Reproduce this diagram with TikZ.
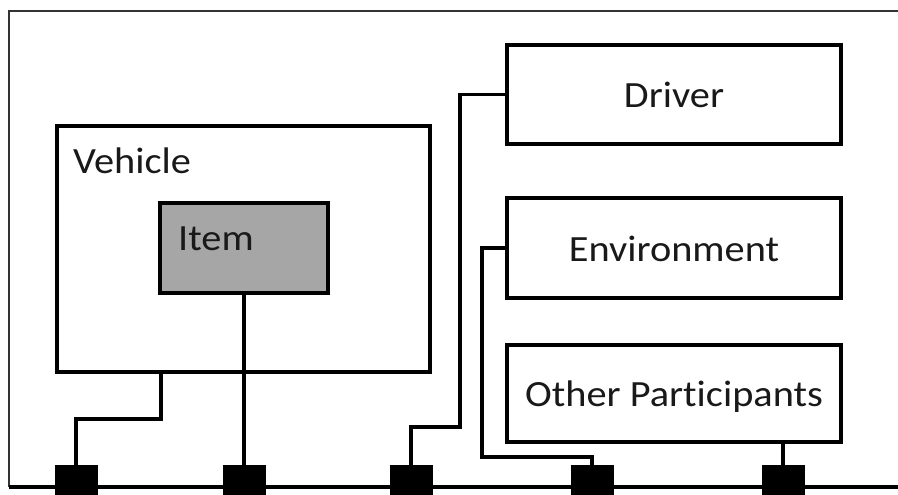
\documentclass[tikz,border=0pt]{standalone}
\usepackage{fontspec}
\setmainfont{Carlito}[Ligatures=NoCommon]
\usepackage{graphicx}
\begin{document}
\begin{tikzpicture}[x=1pt,y=-1pt,
  box/.style={draw=black,line width=3.2pt,rectangle,inner sep=0pt,fill=white},
  port/.style={fill=black,rectangle,inner sep=0pt,minimum width=43pt,minimum height=43pt},
  wire/.style={draw=black,line width=3.2pt,line join=miter},
  lbl/.style={inner sep=0pt,text=black!90,font=\fontsize{37}{40}\selectfont}]
\useasboundingbox (0,0) rectangle (898,495);
\fill[white] (0,0) rectangle (898,495);

% outer frame and bus
\draw[line width=2.2pt,draw=black!80] (9,487) -- (9,11) -- (900,11);
\draw[line width=3.2pt] (9,487) -- (900,487);

% boxes
\node[box,minimum width=373pt,minimum height=246pt] (veh) at (243.5,249) {};
\node[box,fill=black!35,minimum width=168pt,minimum height=90pt] (item) at (244,248) {};
\node[box,minimum width=334pt,minimum height=99pt] (drv) at (674,94.5) {};
\node[box,minimum width=334pt,minimum height=100pt] (env) at (674,248) {};
\node[box,minimum width=334pt,minimum height=97pt] (oth) at (674,393.5) {};

% labels
\node[lbl,anchor=base west] (vehl) at (73,173) {\scalebox{1.09}[1]{Vehicle}};
\node[lbl,anchor=base west] (iteml) at (178,250) {\scalebox{1.09}[1]{Item}};
\node[lbl,anchor=base] (drvl) at (674,108) {\scalebox{1.09}[1]{Driver}};
\node[lbl,anchor=base] (envl) at (674,261) {\scalebox{1.09}[1]{Environment}};
\node[lbl,anchor=base] (othl) at (674,406) {\scalebox{1.09}[1]{Other Participants}};

% bus ports
\node[port] (s1) at (76,486.5) {};
\node[port] (s2) at (244,486.5) {};
\node[port] (s3) at (411,486.5) {};
\node[port] (s4) at (592,486.5) {};
\node[port] (s5) at (783,486.5) {};

% bend points
\coordinate (k1) at (161,419);
\coordinate (k3) at (460,427);
\coordinate (k4) at (482,457);

% connectors
\draw[wire] (veh.south -| k1) -- (k1) -| (s1.north);
\draw[wire] (item.south) -- (s2.north);
\draw[wire] (drv.west) -| (k3) -| (s3.north);
\draw[wire] (env.west) -| (k4) -| (s4.north);
\draw[wire] (oth.south -| s5.north) -- (s5.north);
\end{tikzpicture}
\end{document}
